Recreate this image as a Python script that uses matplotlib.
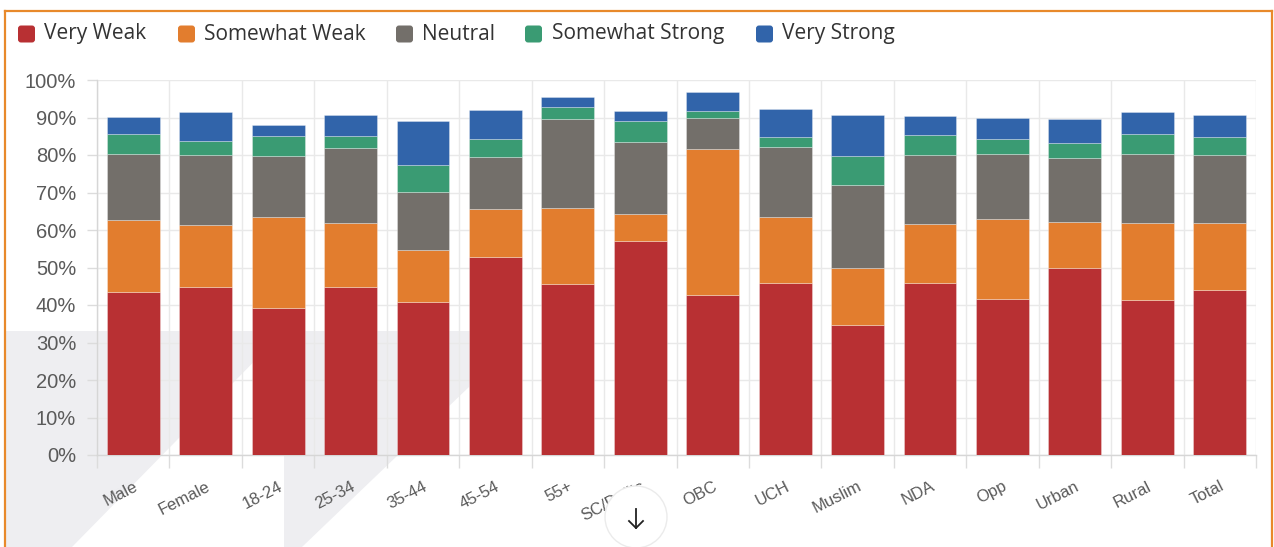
import matplotlib
matplotlib.use("Agg")
import matplotlib.pyplot as plt
import numpy as np
from matplotlib.patches import Polygon, Circle, FancyBboxPatch
from matplotlib.lines import Line2D
from matplotlib.transforms import IdentityTransform

# ---------------- data ----------------
categories = ["Male", "Female", "18-24", "25-34", "35-44", "45-54", "55+", "SC/Dalits",
              "OBC", "UCH", "Muslim", "NDA", "Opp", "Urban", "Rural", "Total"]
series_names = ["Very Weak", "Somewhat Weak", "Neutral", "Somewhat Strong", "Very Strong"]
very_weak = [43.4, 44.7, 39.1, 44.9, 40.8, 52.8, 45.6, 57.2, 42.6, 46.0, 34.7, 46.0, 41.5, 50.0, 41.4, 43.9]
somewhat_weak = [19.3, 16.6, 24.3, 17.1, 13.8, 12.8, 20.4, 7.2, 38.9, 17.4, 15.2, 15.6, 21.4, 12.1, 20.6, 18.1]
neutral = [17.5, 18.7, 16.3, 20.0, 15.6, 14.0, 23.6, 19.2, 8.5, 18.7, 22.1, 18.3, 17.3, 17.2, 18.4, 18.1]
somewhat_strong = [5.4, 3.7, 5.5, 3.0, 7.1, 4.6, 3.3, 5.4, 1.8, 2.6, 7.8, 5.5, 4.0, 3.8, 5.2, 4.6]
very_strong = [4.4, 7.8, 2.7, 5.8, 11.9, 7.7, 2.7, 2.8, 5.0, 7.7, 10.9, 5.1, 5.7, 6.4, 5.8, 6.1]
y_ticks = [0, 10, 20, 30, 40, 50, 60, 70, 80, 90, 100]
y_tick_labels = [f"{v}%" for v in y_ticks]

series = [very_weak, somewhat_weak, neutral, somewhat_strong, very_strong]
colors = ["#B83033", "#E27D2E", "#736F6A", "#3A9B73", "#3164AA"]

# ---------------- figure ----------------
W, H = 1274, 547
fig = plt.figure(figsize=(W / 100, H / 100), dpi=100)
fig.patch.set_facecolor("white")

def fx(px):
    return px / W

def fy(py):
    return 1 - py / H

def pix(px, py):
    return (px, H - py)

ident = IdentityTransform()

# decorative light-grey background shapes
bg_col = "#eeeef1"
for pts in ([(5, 331), (284, 331), (72, 547), (5, 547)],
            [(284, 331), (480, 331), (469, 387), (302, 547), (284, 547)]):
    fig.patches.append(Polygon([pix(*p) for p in pts], closed=True, transform=ident,
                               facecolor=bg_col, edgecolor="none", zorder=-5))

ax = fig.add_axes([fx(97), fy(455), fx(1256) - fx(97), fy(80) - fy(455)])
ax.set_facecolor("none")

x = np.arange(len(categories))
bottom = np.zeros(len(categories))
for name, vals, col in zip(series_names, series, colors):
    vals = np.array(vals)
    ax.bar(x, vals, 0.73, bottom=bottom, color=col, edgecolor=(1, 1, 1, 0.35),
           linewidth=0.6, label=name, zorder=3)
    bottom += vals

ax.set_xlim(-0.5, len(categories) - 0.5)
ax.set_ylim(0, 100)
ax.set_yticks(y_ticks)
ax.set_yticklabels(y_tick_labels, fontsize=14.5, color="#5a5a5a", family="Liberation Sans")
ax.set_xticks(x)
ax.set_xticklabels(categories, rotation=27, ha="right", rotation_mode="anchor",
                   fontsize=12, color="#5a5a5a", family="Liberation Sans")
ax.set_xticks(np.arange(-0.5, len(categories), 1), minor=True)
ax.tick_params(axis="x", which="major", length=0, pad=17)
ax.tick_params(axis="x", which="minor", length=9, color="#dcdcdc", width=1)
ax.tick_params(axis="y", which="major", length=7, color="#dcdcdc", width=1, pad=8)
ax.grid(axis="y", which="major", color="#e9e9e9", linewidth=1, zorder=0)
ax.grid(axis="x", which="minor", color="#e9e9e9", linewidth=1, zorder=0)
ax.set_axisbelow(True)
for s in ["top", "right"]:
    ax.spines[s].set_visible(False)
for s in ["left", "bottom"]:
    ax.spines[s].set_color("#d6d6d6")
    ax.spines[s].set_linewidth(1)

# legend (manual, top row)
sq_left = [18, 178, 396, 525, 756]
txt_left = [44, 204, 422, 552, 782]
leg_y = 34
for name, col, sx, tx in zip(series_names, colors, sq_left, txt_left):
    fig.patches.append(FancyBboxPatch(pix(sx, leg_y + 8.5), 17, 17,
                                      boxstyle="round,pad=0,rounding_size=3",
                                      transform=ident, facecolor=col, edgecolor="none"))
    fig.text(fx(tx), fy(leg_y), name, fontsize=15, color="#333333",
             family="Open Sans", ha="left", va="center")

# orange frame
frame_col = "#E8892B"
for (x0, y0, x1, y1) in [(5, 11, 1272, 11), (5, 11, 5, 547), (1272, 11, 1272, 547)]:
    fig.lines.append(Line2D([x0, x1], [H - y0, H - y1], transform=ident,
                            color=frame_col, linewidth=1.6))

# scroll button
fig.patches.append(Circle(pix(636, 517), 31, transform=ident, facecolor="white",
                          edgecolor="#ebebeb", linewidth=1, zorder=5))
fig.lines.append(Line2D([636, 636], [H - 509, H - 528], transform=ident,
                        color="#222222", linewidth=1.3, zorder=6))
fig.lines.append(Line2D([629, 636, 643], [H - 521, H - 528, H - 521], transform=ident,
                        color="#222222", linewidth=1.3, zorder=6))

fig.savefig("out.png", dpi=100, facecolor="white")
